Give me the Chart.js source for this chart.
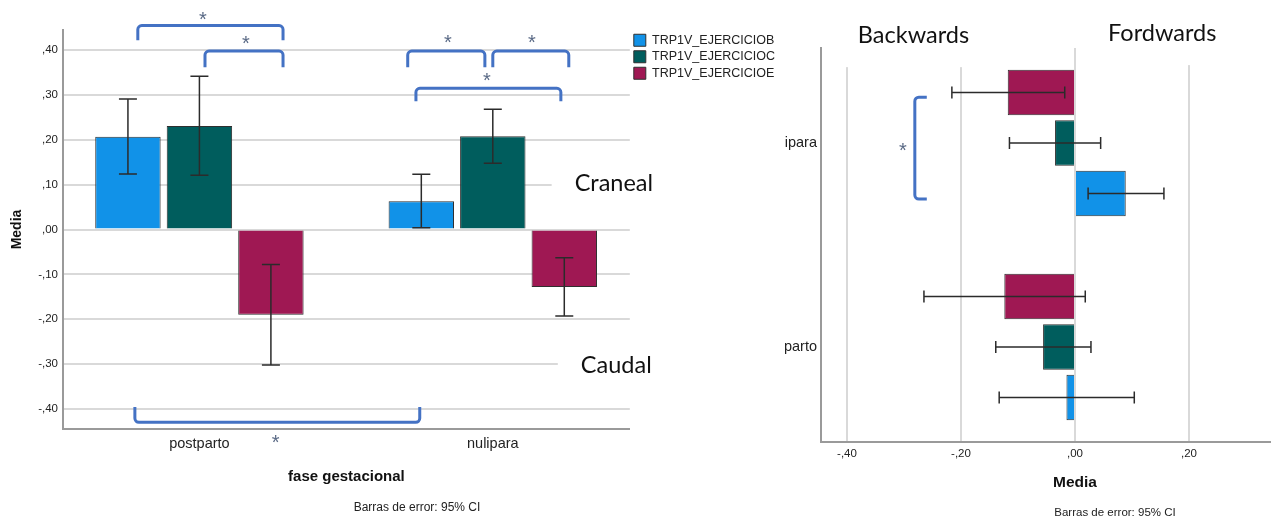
<!DOCTYPE html>
<html><head><meta charset="utf-8">
<script src="https://cdn.jsdelivr.net/npm/chart.js@4.4.1/dist/chart.umd.min.js"></script>
<style>
html,body{margin:0;padding:0;background:#fff;overflow:hidden;width:1271px;height:520px}
#left{position:absolute;left:0;top:0}
#rightWrap{position:absolute;left:785px;top:0;width:486px;height:520px;overflow:hidden;background:#fff}
#right{position:absolute;left:-42px;top:0}
</style></head><body>
<canvas id="left" width="834" height="520"></canvas>
<div id="rightWrap"><canvas id="right" width="744" height="520"></canvas></div>
<script>
// ---------- data ----------
const seriesNames = ['TRP1V_EJERCICIOB', 'TRP1V_EJERCICIOC', 'TRP1V_EJERCICIOE'];

// Left chart (vertical bars), categories at positions 0,1
const leftCategories = ['postparto', 'nulipara'];
const leftMeanB = [0.207, 0.063];
const leftMeanC = [0.231, 0.208];
const leftMeanE = [-0.190, -0.128];
const leftLowB = [0.124, 0.004];
const leftHighB = [0.291, 0.123];
const leftLowC = [0.121, 0.148];
const leftHighC = [0.342, 0.268];
const leftLowE = [-0.302, -0.193];
const leftHighE = [-0.078, -0.063];
const leftTicks = [0.4, 0.3, 0.2, 0.1, 0, -0.1, -0.2, -0.3, -0.4];

// Right chart (horizontal bars), categories top to bottom
const rightCategories = ['nulipara', 'postparto'];
const rightMeanB = [0.089, -0.015];
const rightMeanC = [-0.035, -0.056];
const rightMeanE = [-0.118, -0.124];
const rightLowB = [0.023, -0.133];
const rightHighB = [0.156, 0.104];
const rightLowC = [-0.115, -0.139];
const rightHighC = [0.045, 0.028];
const rightLowE = [-0.216, -0.265];
const rightHighE = [-0.018, 0.018];
const rightTicks = [-0.4, -0.2, 0, 0.2, 0.4];

// significance annotations: [fromCat, toCat, levelValue, legEndValue]
const leftBrackets = [
  [-0.21, 0.285, 0.455, 0.422],
  [0.019, 0.285, 0.398, 0.362],
  [0.71, 0.973, 0.398, 0.362],
  [1.0, 1.259, 0.398, 0.362],
  [0.738, 1.232, 0.315, 0.286],
  [-0.22, 0.751, -0.43, -0.396]
];
const leftStars = [[0.012, 0.48], [0.158, 0.4265], [0.847, 0.429], [1.133, 0.429], [0.98, 0.344], [0.26, -0.463]];
const leftNotes = [['Craneal', 1.279, 0.103], ['Caudal', 1.30, -0.303]];
const rightBrackets = [[-0.225, 0.2745, -0.281, -0.26]];
const rightStars = [[0.01, -0.302]];
const rightNotes = [['Backwards', -0.529, -0.381], ['Fordwards', -0.539, 0.058]];

// ---------- styles ----------
const COLORS = {B: '#1192e8', C: '#005d5d', E: '#9f1853'};
const FONT = "'Liberation Sans', Arial, sans-serif";
const NOTE_FONT = "23.5px Lato, 'Open Sans', sans-serif";
Chart.defaults.font.family = FONT;
Chart.defaults.color = '#222';

const fmt = v => (v < -1e-9 ? '-' : '') + Math.abs(v).toFixed(2).replace(/^0\./, ',');

function toPx(chart, cat, val) {
  const h = chart.options.indexAxis === 'y';
  const xs = chart.scales.x, ys = chart.scales.y;
  return h ? [xs.getPixelForValue(val), ys.getPixelForValue(cat)]
           : [xs.getPixelForValue(cat), ys.getPixelForValue(val)];
}

const errorBars = {
  id: 'errorBars',
  afterDatasetsDraw(chart, args, opts) {
    const ctx = chart.ctx;
    const h = chart.options.indexAxis === 'y';
    const vs = h ? chart.scales.x : chart.scales.y;
    ctx.save();
    ctx.strokeStyle = opts.color; ctx.lineWidth = opts.width;
    chart.data.datasets.forEach((ds, di) => {
      chart.getDatasetMeta(di).data.forEach((bar, i) => {
        const a = vs.getPixelForValue(ds.ciLow[i]);
        const b = vs.getPixelForValue(ds.ciHigh[i]);
        const c = h ? bar.y : bar.x;
        const k = opts.cap / 2;
        ctx.beginPath();
        if (h) {
          ctx.moveTo(a, c); ctx.lineTo(b, c);
          ctx.moveTo(a, c - k); ctx.lineTo(a, c + k);
          ctx.moveTo(b, c - k); ctx.lineTo(b, c + k);
        } else {
          ctx.moveTo(c, a); ctx.lineTo(c, b);
          ctx.moveTo(c - k, a); ctx.lineTo(c + k, a);
          ctx.moveTo(c - k, b); ctx.lineTo(c + k, b);
        }
        ctx.stroke();
      });
    });
    ctx.restore();
  }
};

const notes = {
  id: 'notes',
  beforeDatasetsDraw(chart, args, opts) {
    // white text boxes hide the grid lines behind the labels
    const ctx = chart.ctx;
    ctx.save();
    ctx.font = NOTE_FONT;
    ctx.fillStyle = '#fff';
    opts.notes.forEach(([t, cat, val]) => {
      const [x, y] = toPx(chart, cat, val);
      const w = ctx.measureText(t).width;
      ctx.fillRect(x - 23, y - 30, w + 33, 62);
    });
    ctx.restore();
  },
  afterDraw(chart, args, opts) {
    const ctx = chart.ctx;
    ctx.save();
    ctx.font = NOTE_FONT;
    ctx.fillStyle = '#111';
    ctx.textAlign = 'left'; ctx.textBaseline = 'middle';
    opts.notes.forEach(([t, cat, val]) => {
      const [x, y] = toPx(chart, cat, val);
      ctx.fillText(t, x, y);
    });
    // brackets
    ctx.strokeStyle = '#4472c4'; ctx.lineWidth = 3; ctx.lineJoin = 'round';
    opts.brackets.forEach(([f, t, lv, le]) => {
      const p0 = toPx(chart, f, le), p1 = toPx(chart, f, lv), p2 = toPx(chart, t, lv), p3 = toPx(chart, t, le);
      ctx.beginPath();
      ctx.moveTo(p0[0], p0[1]);
      ctx.arcTo(p1[0], p1[1], p2[0], p2[1], 4);
      ctx.arcTo(p2[0], p2[1], p3[0], p3[1], 4);
      ctx.lineTo(p3[0], p3[1]);
      ctx.stroke();
    });
    // stars
    ctx.fillStyle = '#5a6a86';
    ctx.font = '20px ' + FONT;
    ctx.textAlign = 'center'; ctx.textBaseline = 'alphabetic';
    opts.stars.forEach(([cat, val]) => {
      const [x, y] = toPx(chart, cat, val);
      ctx.fillText('*', x, y + 11.5);
    });
    ctx.restore();
  }
};

function ds(label, color, data, lo, hi, horizontal) {
  return {
    label, backgroundColor: color, borderColor: '#2f2f2f', borderWidth: 1,
    data: data.map((v, i) => horizontal ? {x: v, y: i} : {x: i, y: v}),
    ciLow: lo, ciHigh: hi,
    barPercentage: horizontal ? 0.9 : 0.915,
    categoryPercentage: horizontal ? 0.743 : 0.731
  };
}

// empty outer axis used only as right-side spacing
const spacer = w => ({
  type: 'linear', position: 'right', weight: 2000,
  grid: {display: false, drawTicks: false}, border: {display: false},
  ticks: {display: false}, afterFit: s => { s.width = w; }
});

const axisGray = '#9a9a9a';
const gridGray = '#d9d9d9';

// ---------- left chart ----------
new Chart(document.getElementById('left'), {
  type: 'bar',
  data: {
    datasets: [
      ds(seriesNames[0], COLORS.B, leftMeanB, leftLowB, leftHighB, false),
      ds(seriesNames[1], COLORS.C, leftMeanC, leftLowC, leftHighC, false),
      ds(seriesNames[2], COLORS.E, leftMeanE, leftLowE, leftHighE, false)
    ]
  },
  options: {
    responsive: false, animation: false, devicePixelRatio: 1,
    layout: {padding: {left: 0, top: 30, right: 0, bottom: 5}},
    scales: {
      x: {
        type: 'linear', min: -0.465, max: 1.467, offset: false,
        afterBuildTicks: s => { s.ticks = leftCategories.map((c, i) => ({value: i})); },
        afterFit: s => { s.height = 71.6; },
        grid: {display: false, drawTicks: false, offset: false},
        border: {display: true, color: axisGray, width: 2},
        ticks: {callback: v => leftCategories[v], font: {size: 14.5}, padding: 6, maxRotation: 0, color: '#222'},
        title: {display: true, text: 'fase gestacional', font: {size: 15, weight: 'bold'}, color: '#111', padding: {top: 0, bottom: 14.7}}
      },
      y: {
        min: -0.445, max: 0.445,
        afterBuildTicks: s => { s.ticks = leftTicks.map(v => ({value: v})); },
        afterFit: s => { s.width = 63; },
        grid: {color: gridGray, lineWidth: 2, drawTicks: false},
        border: {display: true, color: axisGray, width: 2},
        ticks: {callback: v => fmt(v), font: {size: 11.5}, padding: 5, color: '#222'},
        title: {display: true, text: 'Media', font: {size: 14, weight: 'bold'}, color: '#111', padding: {top: 9, bottom: 0}}
      },
      yPad: spacer(49)
    },
    plugins: {
      legend: {
        position: 'right', align: 'start', maxWidth: 240,
        labels: {boxWidth: 12, boxHeight: 12, font: {size: 12.5}, padding: 4, color: '#222'}
      },
      title: {display: true, text: 'Barras de error: 95% CI', position: 'bottom', font: {size: 12, weight: 'normal'}, color: '#222', padding: 0},
      tooltip: {enabled: false},
      errorBars: {color: '#2b2b2b', width: 1.5, cap: 18},
      notes: {notes: leftNotes, brackets: leftBrackets, stars: leftStars}
    }
  },
  plugins: [errorBars, notes]
});

// ---------- right chart ----------
new Chart(document.getElementById('right'), {
  type: 'bar',
  data: {
    datasets: [
      ds(seriesNames[2], COLORS.E, rightMeanE, rightLowE, rightHighE, true),
      ds(seriesNames[1], COLORS.C, rightMeanC, rightLowC, rightHighC, true),
      ds(seriesNames[0], COLORS.B, rightMeanB, rightLowB, rightHighB, true)
    ]
  },
  options: {
    indexAxis: 'y',
    responsive: false, animation: false, devicePixelRatio: 1,
    layout: {padding: {left: 0, top: 48, right: 0, bottom: 0}},
    scales: {
      x: {
        type: 'linear', min: -0.4456, max: 0.4456,
        afterBuildTicks: s => { s.ticks = rightTicks.map(v => ({value: v})); },
        afterFit: s => { s.height = 64.2; },
        grid: {color: gridGray, lineWidth: 2, drawTicks: false},
        border: {display: true, color: axisGray, width: 2},
        ticks: {callback: v => fmt(v), font: {size: 11.5}, padding: 5, maxRotation: 0, color: '#222'},
        title: {display: true, text: 'Media', font: {size: 15.5, weight: 'bold'}, color: '#111', padding: {top: 0, bottom: 13.7}}
      },
      y: {
        type: 'linear', min: -0.466, max: 1.466, reverse: true, offset: false,
        afterBuildTicks: s => { s.ticks = rightCategories.map((c, i) => ({value: i})); },
        afterFit: s => { s.width = 78; },
        grid: {display: false, drawTicks: false, offset: false},
        border: {display: true, color: axisGray, width: 2},
        ticks: {callback: v => rightCategories[v], font: {size: 14.5}, padding: 4, color: '#222'}
      },
      yPad: spacer(158)
    },
    plugins: {
      legend: {display: false},
      title: {display: true, text: 'Barras de error: 95% CI', position: 'bottom', font: {size: 11.5, weight: 'normal'}, color: '#222', padding: 0},
      tooltip: {enabled: false},
      errorBars: {color: '#2b2b2b', width: 1.5, cap: 12},
      notes: {notes: rightNotes, brackets: rightBrackets, stars: rightStars}
    }
  },
  plugins: [errorBars, notes]
});
</script>
</body></html>
